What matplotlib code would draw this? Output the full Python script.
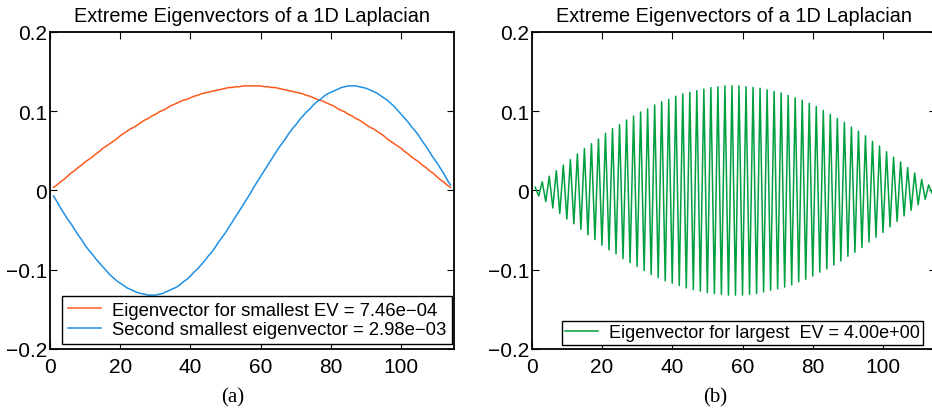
import matplotlib
matplotlib.use('Agg')
import matplotlib.pyplot as plt

# --- data: eigenvector entries (index 1..114) ---
idx = list(range(1, 115))

smallest = [0.004, 0.007, 0.011, 0.014, 0.018, 0.022, 0.025, 0.029, 0.032, 0.036,
            0.039, 0.042, 0.046, 0.049, 0.053, 0.056, 0.059, 0.062, 0.065, 0.069,
            0.072, 0.075, 0.078, 0.080, 0.083, 0.086, 0.089, 0.091, 0.094, 0.096,
            0.099, 0.101, 0.103, 0.106, 0.108, 0.110, 0.112, 0.114, 0.115, 0.117,
            0.119, 0.120, 0.122, 0.123, 0.124, 0.125, 0.126, 0.127, 0.128, 0.129,
            0.130, 0.130, 0.131, 0.131, 0.132, 0.132, 0.132,
            0.132, 0.132, 0.132, 0.131, 0.131, 0.130, 0.130, 0.129, 0.128, 0.127,
            0.126, 0.125, 0.124, 0.123, 0.122, 0.120, 0.119, 0.117, 0.115, 0.114,
            0.112, 0.110, 0.108, 0.106, 0.103, 0.101, 0.099, 0.096, 0.094, 0.091,
            0.089, 0.086, 0.083, 0.080, 0.078, 0.075, 0.072, 0.069, 0.065, 0.062,
            0.059, 0.056, 0.053, 0.049, 0.046, 0.042, 0.039, 0.036, 0.032, 0.029,
            0.025, 0.022, 0.018, 0.014, 0.011, 0.007, 0.004]

second = [-0.007, -0.014, -0.022, -0.029, -0.036, -0.042, -0.049, -0.056, -0.062, -0.069,
          -0.075, -0.080, -0.086, -0.091, -0.096, -0.101, -0.106, -0.110, -0.114, -0.117,
          -0.120, -0.123, -0.125, -0.127, -0.129, -0.130, -0.131, -0.132, -0.132, -0.132,
          -0.131, -0.130, -0.128, -0.126, -0.124, -0.122, -0.119, -0.115, -0.112, -0.108,
          -0.103, -0.099, -0.094, -0.089, -0.083, -0.078, -0.072, -0.065, -0.059, -0.053,
          -0.046, -0.039, -0.032, -0.025, -0.018, -0.011, -0.004,
          0.004, 0.011, 0.018, 0.025, 0.032, 0.039, 0.046, 0.053, 0.059, 0.065,
          0.072, 0.078, 0.083, 0.089, 0.094, 0.099, 0.103, 0.108, 0.112, 0.115,
          0.119, 0.122, 0.124, 0.126, 0.128, 0.130, 0.131, 0.132, 0.132, 0.132,
          0.131, 0.130, 0.129, 0.127, 0.125, 0.123, 0.120, 0.117, 0.114, 0.110,
          0.106, 0.101, 0.096, 0.091, 0.086, 0.080, 0.075, 0.069, 0.062, 0.056,
          0.049, 0.042, 0.036, 0.029, 0.022, 0.014, 0.007]

largest = [0.004, -0.007, 0.011, -0.014, 0.018, -0.022, 0.025, -0.029, 0.032, -0.036,
           0.039, -0.042, 0.046, -0.049, 0.053, -0.056, 0.059, -0.062, 0.065, -0.069,
           0.072, -0.075, 0.078, -0.080, 0.083, -0.086, 0.089, -0.091, 0.094, -0.096,
           0.099, -0.101, 0.103, -0.106, 0.108, -0.110, 0.112, -0.114, 0.115, -0.117,
           0.119, -0.120, 0.122, -0.123, 0.124, -0.125, 0.126, -0.127, 0.128, -0.129,
           0.130, -0.130, 0.131, -0.131, 0.132, -0.132, 0.132,
           -0.132, 0.132, -0.132, 0.131, -0.131, 0.130, -0.130, 0.129, -0.128, 0.127,
           -0.126, 0.125, -0.124, 0.123, -0.122, 0.120, -0.119, 0.117, -0.115, 0.114,
           -0.112, 0.110, -0.108, 0.106, -0.103, 0.101, -0.099, 0.096, -0.094, 0.091,
           -0.089, 0.086, -0.083, 0.080, -0.078, 0.075, -0.072, 0.069, -0.065, 0.062,
           -0.059, 0.056, -0.053, 0.049, -0.046, 0.042, -0.039, 0.036, -0.032, 0.029,
           -0.025, 0.022, -0.018, 0.014, -0.011, 0.007, -0.004]

title = 'Extreme Eigenvectors of a 1D Laplacian'
yticks = [-0.2, -0.1, 0, 0.1, 0.2]
ytick_labels = ['\u22120.2', '\u22120.1', '0', '0.1', '0.2']
xticks = [0, 20, 40, 60, 80, 100]

plt.rcParams['font.family'] = ['Liberation Sans', 'DejaVu Sans']

fig = plt.figure(figsize=(9.32, 4.14), dpi=100)
ax1 = fig.add_axes([0.0536, 0.1546, 0.4335, 0.7657])
ax2 = fig.add_axes([0.5705, 0.1546, 0.4335, 0.7657])


def style(ax):
    ax.set_xlim(0, 115)
    ax.set_ylim(-0.2, 0.2)
    ax.set_xticks(xticks)
    ax.set_yticks(yticks, ytick_labels)
    ax.tick_params(direction='in', length=5, width=0.8, top=True, right=True,
                   labelsize=15)
    ax.tick_params(axis='x', pad=6)
    ax.tick_params(axis='y', pad=2)
    for s in ax.spines.values():
        s.set_linewidth(1.3)
    ax.set_title(title, fontsize=14.3, pad=8)


ax1.plot(idx, smallest, color='#ff5a1e', lw=1.1,
         label='Eigenvector for smallest EV = 7.46e\u221204')
ax1.plot(idx, second, color='#1e90e6', lw=1.1,
         label='Second smallest eigenvector = 2.98e\u221203')
style(ax1)
leg1 = ax1.legend(loc='lower right', bbox_to_anchor=(0.995, 0.016), fontsize=13.3,
                  fancybox=False, framealpha=1, edgecolor='black', handlelength=1.8,
                  borderpad=0.3, labelspacing=0.15, handletextpad=0.6, borderaxespad=0)
leg1.get_frame().set_linewidth(1.0)

ax2.plot(idx, largest, color='#00a040', lw=1.1,
         label='Eigenvector for largest  EV = 4.00e+00')
style(ax2)
leg2 = ax2.legend(loc='lower right', bbox_to_anchor=(0.9686, 0.0126), fontsize=13,
                  fancybox=False, framealpha=1, edgecolor='black', handlelength=1.8,
                  borderpad=0.2, handletextpad=0.6, borderaxespad=0)
leg2.get_frame().set_linewidth(1.0)

fig.text(0.250, 0.038, '(a)', ha='center', va='center', fontsize=15,
         family='Liberation Serif')
fig.text(0.767, 0.038, '(b)', ha='center', va='center', fontsize=15,
         family='Liberation Serif')

fig.savefig('out.png', dpi=100)
